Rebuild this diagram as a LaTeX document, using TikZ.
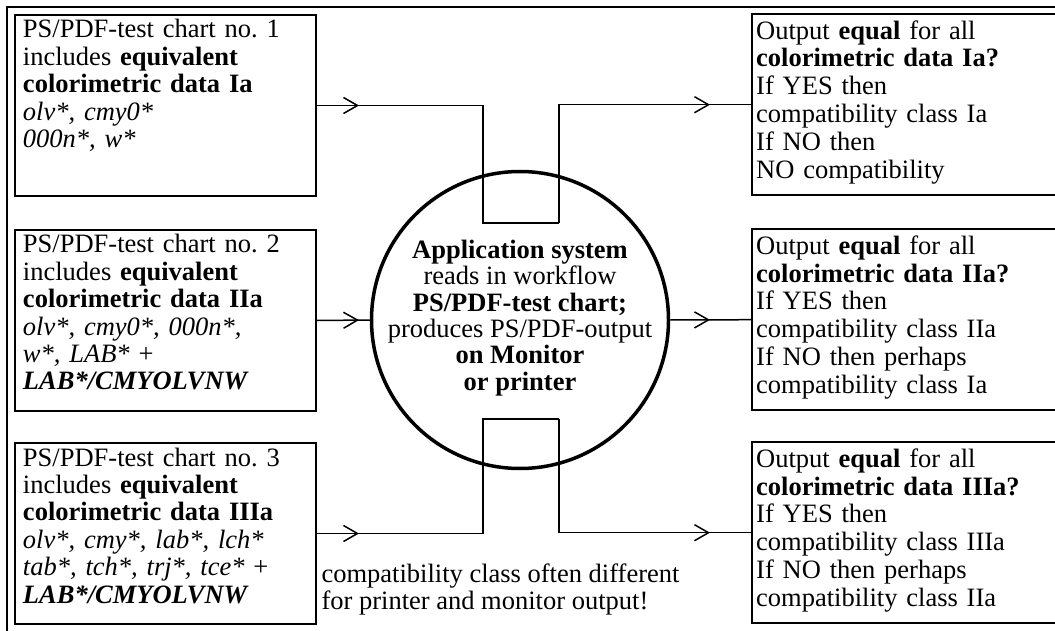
\documentclass[tikz,border=0pt]{standalone}
\usepackage{fontspec}
\setmainfont{Liberation Serif}
\usetikzlibrary{arrows.meta,decorations.markings}

\tikzset{
  txt/.style={font=\fontsize{26.5pt}{26.3pt}\selectfont},
  boxtxt/.style={font=\fontsize{26.5pt}{27.4pt}\selectfont},
  boxline/.style={line width=2pt},
  inbox/.style={boxtxt, draw, boxline, anchor=north west, text width=285pt, inner xsep=8pt, inner ysep=4pt, text height=19pt, text depth=154pt, align=left},
  outbox/.style={font=\fontsize{26.5pt}{27.8pt}\selectfont, anchor=north west, text width=340pt, inner xsep=4pt, inner ysep=4pt, text height=21pt, text depth=152pt, align=left},
  sys/.style={circle, draw, line width=3.5pt, minimum size=297pt, inner sep=0pt},
  link/.style={line width=1.5pt},
  barb/.tip={Straight Barb[length=14pt,width=16pt]},
  tipin/.style={link, decoration={markings, mark=at position 42pt with {\arrow{barb}}}, postaction={decorate}},
  tipout/.style={link, decoration={markings, mark=at position -42pt with {\arrow{barb}}}, postaction={decorate}},
}

\begin{document}
\begin{tikzpicture}[x=1pt, y=-1pt]
			\useasboundingbox (0,0) rectangle (1055,631);
			\clip (0,0) rectangle (1055,631);
			\draw[boxline] (7,631) -- (7,7) -- (1055,7);

			% test charts
			\node[inbox] (in1) at (14,14) {PS/PDF-test chart no.\ 1\\ includes \textbf{equivalent}\\ \textbf{colorimetric data Ia}\\ \textit{olv*, cmy0*}\\ \textit{000n*, w*}};
			\node[inbox] (in2) at (14,229) {PS/PDF-test chart no.\ 2\\ includes \textbf{equivalent}\\ \textbf{colorimetric data IIa}\\ \textit{olv*, cmy0*, 000n*,}\\ \textit{w*, LAB*} +\\ \textbf{\textit{LAB*/CMYOLVNW}}};
			\node[inbox] (in3) at (14,442) {PS/PDF-test chart no.\ 3\\ includes \textbf{equivalent}\\ \textbf{colorimetric data IIIa}\\ \textit{olv*, cmy*, lab*, lch*}\\ \textit{tab*, tch*, trj*, tce*} +\\ \textbf{\textit{LAB*/CMYOLVNW}}};

			% results, open at the right page edge
			\node[outbox] (out1) at (752,14) {Output \textbf{equal} for all\\ \textbf{colorimetric data Ia?}\\ If YES then\\ compatibility class Ia\\ If NO then\\ NO compatibility};
			\node[outbox] (out2) at (752,229) {Output \textbf{equal} for all\\ \textbf{colorimetric data IIa?}\\ If YES then\\ compatibility class IIa\\ If NO then perhaps\\ compatibility class Ia};
			\node[outbox] (out3) at (752,442) {Output \textbf{equal} for all\\ \textbf{colorimetric data IIIa?}\\ If YES then\\ compatibility class IIIa\\ If NO then perhaps\\ compatibility class IIa};
			\foreach \n in {out1, out2, out3}
				{
					\draw[boxline] (\n.north east) -- (\n.north west) -- (\n.south west) -- (\n.south east);
				}

			% application system
			\node[sys] (sys) at (520,320) {};
			\node[txt, align=center] (systxt) at (520,318) {\textbf{Application system}\\ reads in workflow\\ \textbf{PS/PDF-test chart;}\\ produces PS/PDF-output\\ \textbf{on Monitor}\\ \textbf{or printer}};

			\node[boxtxt, align=left, anchor=north west] (note) at (318,560) {compatibility class often different\\ for printer and monitor output!};

			\coordinate (d1) at (483,223);
			\coordinate (d2) at (559,223);
			\coordinate (u1) at (483,419);
			\coordinate (u2) at (559,419);

			\draw[tipin] (in1.east) -| (d1) -- (d2);
			\draw[tipout] (d2) |- (out1.west);
			\draw[tipin] (in2.east) -- (sys.west);
			\draw[tipout] (sys.east) -- (out2.west);
			\draw[tipin] (in3.east) -| (u1) -- (u2);
			\draw[tipout] (u2) |- (out3.west);
\end{tikzpicture}
\end{document}
